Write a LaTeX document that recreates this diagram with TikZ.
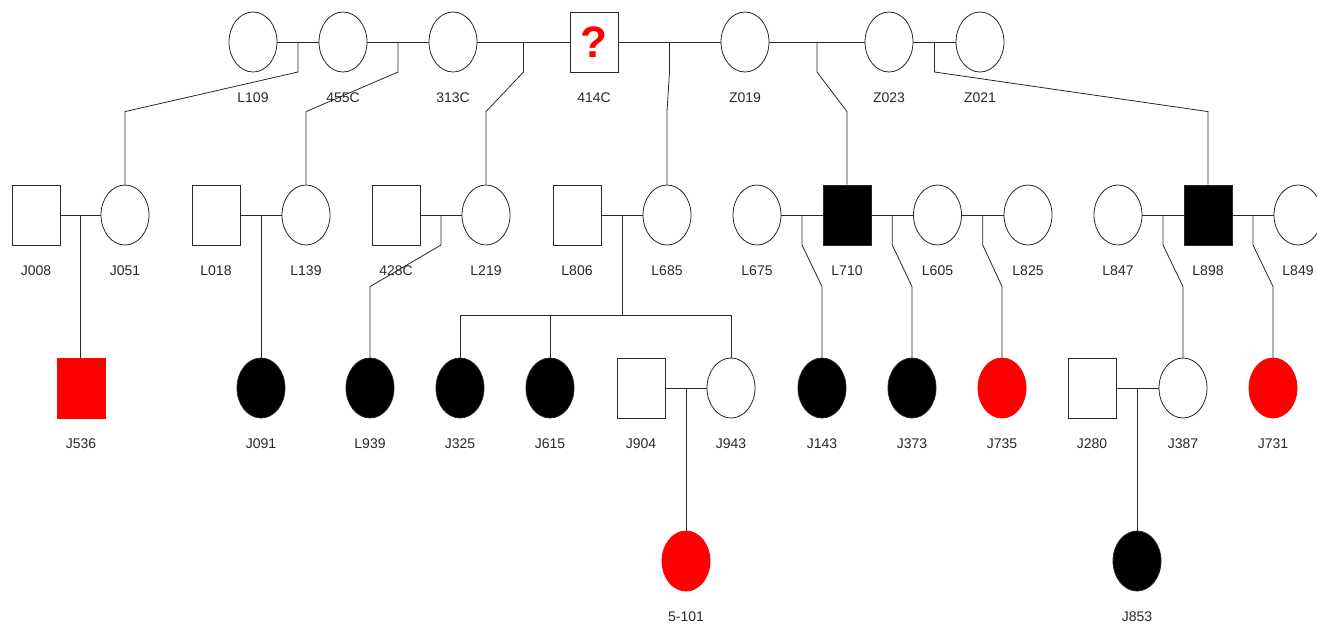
\documentclass[tikz,border=0pt]{standalone}
\usepackage{fontspec}
\setmainfont{Liberation Sans}
\usetikzlibrary{shapes.geometric,calc}

\definecolor{affred}{RGB}{255,0,0}
\definecolor{ink}{RGB}{40,40,40}

\tikzset{
  base/.style={draw=ink, line width=0.8pt, inner sep=0pt, minimum width=48pt, minimum height=60pt},
  male/.style={base, rectangle, fill=white},
  female/.style={base, ellipse, fill=white},
  blackm/.style={male, fill=black},
  blackf/.style={female, fill=black},
  redm/.style={male, fill=affred, draw=affred},
  redf/.style={female, fill=affred, draw=affred},
  lab/.style={font=\fontsize{14}{16}\selectfont, text=ink, inner sep=0pt},
  link/.style={draw=ink, line width=0.8pt},
}

% person: name, style, x, y, label text
\newcommand\pers[5]{%
  \node[#2] (#1) at (#3,#4) {};
  \node[lab] (t#1) at (#3,#4+55.5) {#5};}

\begin{document}
\begin{tikzpicture}[x=1pt,y=-1pt]
\useasboundingbox (0,0) rectangle (1317,624);
\clip (0,0) rectangle (1317,624);

% ---- generation I
\pers{L109}{female}{253}{42}{L109}
\pers{p455C}{female}{343}{42}{455C}
\pers{p313C}{female}{453}{42}{313C}
\pers{p414C}{male}{594}{42}{414C}
\node[text=affred, font=\fontsize{44}{44}\selectfont\bfseries, inner sep=0pt] (q414C) at (p414C) {?};
\pers{Z019}{female}{745}{42}{Z019}
\pers{Z023}{female}{889}{42}{Z023}
\pers{Z021}{female}{980}{42}{Z021}

% ---- generation II
\pers{J008}{male}{36}{215}{J008}
\pers{J051}{female}{125}{215}{J051}
\pers{L018}{male}{216}{215}{L018}
\pers{L139}{female}{306}{215}{L139}
\pers{p428C}{male}{396}{215}{428C}
\pers{L219}{female}{486}{215}{L219}
\pers{L806}{male}{577}{215}{L806}
\pers{L685}{female}{667}{215}{L685}
\pers{L675}{female}{757}{215}{L675}
\pers{L710}{blackm}{847}{215}{L710}
\pers{L605}{female}{937.5}{215}{L605}
\pers{L825}{female}{1028}{215}{L825}
\pers{L847}{female}{1118}{215}{L847}
\pers{L898}{blackm}{1208}{215}{L898}
\pers{L849}{female}{1298}{215}{L849}

% ---- generation III
\pers{J536}{redm}{81}{388}{J536}
\pers{J091}{blackf}{261}{388}{J091}
\pers{L939}{blackf}{370}{388}{L939}
\pers{J325}{blackf}{460}{388}{J325}
\pers{J615}{blackf}{550}{388}{J615}
\pers{J904}{male}{641}{388}{J904}
\pers{J943}{female}{731}{388}{J943}
\pers{J143}{blackf}{822}{388}{J143}
\pers{J373}{blackf}{912}{388}{J373}
\pers{J735}{redf}{1002}{388}{J735}
\pers{J280}{male}{1092}{388}{J280}
\pers{J387}{female}{1183}{388}{J387}
\pers{J731}{redf}{1273}{388}{J731}

% ---- generation IV
\pers{p5101}{redf}{686}{561}{5-101}
\pers{J853}{blackf}{1137}{561}{J853}

% ---- marriage lines, generation I
\draw[link] (L109.east) -- (p455C.west);
\draw[link] (p455C.east) -- (p313C.west);
\draw[link] (p313C.east) -- (p414C.west);
\draw[link] (p414C.east) -- (Z019.west);
\draw[link] (Z019.east) -- (Z023.west);
\draw[link] (Z023.east) -- (Z021.west);
\coordinate (mA) at ($(L109.east)!0.5!(p455C.west)$);
\coordinate (mB) at ($(p455C.east)!0.5!(p313C.west)$);
\coordinate (mC) at ($(p313C.east)!0.5!(p414C.west)$);
\coordinate (mD) at ($(p414C.east)!0.5!(Z019.west)$);
\coordinate (mE) at ($(Z019.east)!0.5!(Z023.west)$);
\coordinate (mF) at ($(Z023.east)!0.5!(Z021.west)$);

% descent lines to generation II
\draw[link] (mA) -- ++(0,30) -- ([yshift=73pt]J051.north) -- (J051.north);
\draw[link] (mB) -- ++(0,30) -- ([yshift=73pt]L139.north) -- (L139.north);
\draw[link] (mC) -- ++(0,30) -- ([yshift=73pt]L219.north) -- (L219.north);
\draw[link] (mD) -- ++(0,30) -- ([yshift=73pt]L685.north) -- (L685.north);
\draw[link] (mE) -- ++(0,30) -- ([yshift=73pt]L710.north) -- (L710.north);
\draw[link] (mF) -- ++(0,30) -- ([yshift=73pt]L898.north) -- (L898.north);

% ---- marriage lines, generation II
\draw[link] (J008.east) -- (J051.west);
\draw[link] (L018.east) -- (L139.west);
\draw[link] (p428C.east) -- (L219.west);
\draw[link] (L806.east) -- (L685.west);
\draw[link] (L675.east) -- (L710.west);
\draw[link] (L710.east) -- (L605.west);
\draw[link] (L605.east) -- (L825.west);
\draw[link] (L847.east) -- (L898.west);
\draw[link] (L898.east) -- (L849.west);
\coordinate (mG) at ($(J008.east)!0.5!(J051.west)$);
\coordinate (mH) at ($(L018.east)!0.5!(L139.west)$);
\coordinate (mI) at ($(p428C.east)!0.5!(L219.west)$);
\coordinate (mJ) at ($(L806.east)!0.5!(L685.west)$);
\coordinate (mK) at ($(L675.east)!0.5!(L710.west)$);
\coordinate (mL) at ($(L710.east)!0.5!(L605.west)$);
\coordinate (mM) at ($(L605.east)!0.5!(L825.west)$);
\coordinate (mN) at ($(L847.east)!0.5!(L898.west)$);
\coordinate (mO) at ($(L898.east)!0.5!(L849.west)$);

% descent lines to generation III
\draw[link] (mG) -- (mG |- J536.north);
\draw[link] (mH) -- (mH |- J091.north);
\draw[link] (mI) -- ++(0,30) -- ([yshift=71pt]L939.north) -- (L939.north);
\coordinate (sib) at ($(mJ)+(0,100)$);
\draw[link] (mJ) -- (sib);
\draw[link] (J325.north) -- (J325.north |- sib) -- (J943.north |- sib) -- (J943.north);
\draw[link] (J615.north) -- (J615.north |- sib);
\draw[link] (mK) -- ++(0,30) -- ([yshift=71pt]J143.north) -- (J143.north);
\draw[link] (mL) -- ++(0,30) -- ([yshift=71pt]J373.north) -- (J373.north);
\draw[link] (mM) -- ++(0,30) -- ([yshift=71pt]J735.north) -- (J735.north);
\draw[link] (mN) -- ++(0,30) -- ([yshift=71pt]J387.north) -- (J387.north);
\draw[link] (mO) -- ++(0,30) -- ([yshift=71pt]J731.north) -- (J731.north);

% ---- marriage lines, generation III and descent to IV
\draw[link] (J904.east) -- (J943.west);
\draw[link] (J280.east) -- (J387.west);
\coordinate (mP) at ($(J904.east)!0.5!(J943.west)$);
\coordinate (mQ) at ($(J280.east)!0.5!(J387.west)$);
\draw[link] (mP) -- (mP |- p5101.north);
\draw[link] (mQ) -- (mQ |- J853.north);
\end{tikzpicture}
\end{document}
